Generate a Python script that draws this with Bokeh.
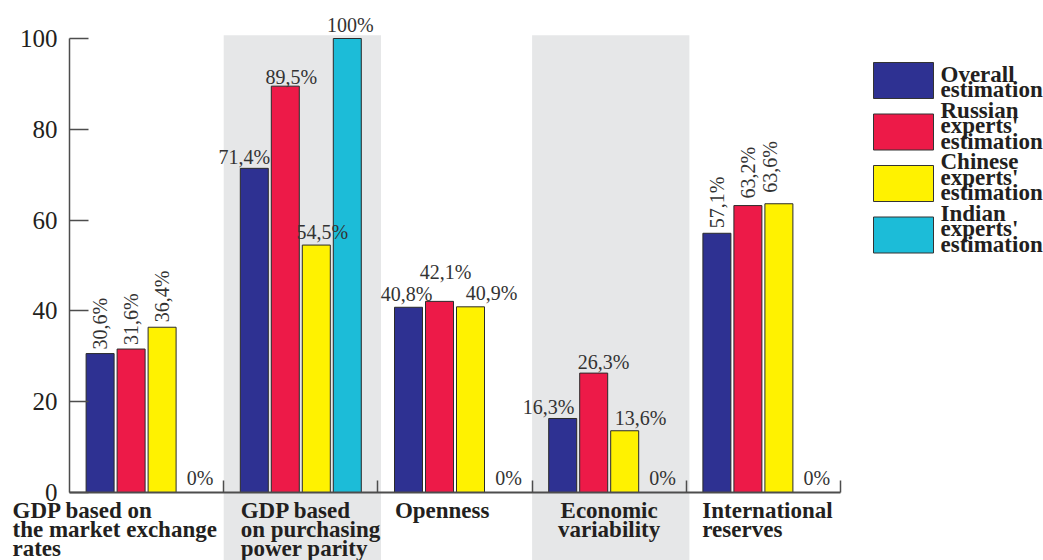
import math
from bokeh.plotting import figure
from bokeh.models import Range1d, LinearAxis, FixedTicker
from bokeh.core.properties import value
from bokeh.embed import file_html
from bokeh.resources import INLINE

# ---------------- data ----------------
categories = [
    "GDP based on\nthe market exchange\nrates",
    "GDP based\non purchasing\npower parity",
    "Openness",
    "Economic\nvariability",
    "International\nreserves",
]
series_names = [
    "Overall\nestimation",
    "Russian\nexperts'\nestimation",
    "Chinese\nexperts'\nestimation",
    "Indian\nexperts'\nestimation",
]
overall = [30.6, 71.4, 40.8, 16.3, 57.1]
russian = [31.6, 89.5, 42.1, 26.3, 63.2]
chinese = [36.4, 54.5, 40.9, 13.6, 63.6]
indian = [0.0, 100.0, 0.0, 0.0, 0.0]
y_ticks = [0, 20, 40, 60, 80, 100]

series_values = [overall, russian, chinese, indian]
colors = ["#2E3192", "#ED1A48", "#FFF200", "#1CBCD8"]
shaded_groups = [1, 3]
rotated_groups = [0, 4]

# ---------------- layout (pixels) ----------------
W, H = 1043, 560
X0_PX = 69.0        # pixel of left edge of first group
GROUP_PX = 154.2    # pixel width of one group
Y0_PX = 492.0       # pixel of value 0
PX_PER_UNIT = 4.54  # pixels per value unit
BASELINE_FIX = 0.3  # em correction for alphabetic baseline placement

x_start = -X0_PX / GROUP_PX
x_end = x_start + W / GROUP_PX
y_end = Y0_PX / PX_PER_UNIT
y_start = -(H - Y0_PX) / PX_PER_UNIT


def px2x(px):
    return x_start + px / GROUP_PX


def py2y(py):
    return y_end - py / PX_PER_UNIT


SLOT = 31.0 / GROUP_PX
BAR_W = 28.0 / GROUP_PX
FIRST = 0.5 - 1.5 * SLOT

SERIF = "Liberation Serif"
TEXT_COLOR = "#231F20"
AXIS_COLOR = "#4d4d4d"
VAL_FS = 20
BOLD_FS = 23

p = figure(width=W, height=H, x_range=Range1d(x_start, x_end), y_range=Range1d(y_start, y_end),
           output_backend="svg", toolbar_location=None, min_border=0,
           x_axis_type=None, y_axis_type=None)
p.outline_line_color = None
p.background_fill_color = "white"
p.border_fill_color = "white"

# shaded group backgrounds
n_groups = len(categories)
p.quad(left=[g for g in shaded_groups], right=[g + 1.02 for g in shaded_groups],
       bottom=[y_start] * len(shaded_groups), top=[100.7] * len(shaded_groups),
       fill_color="#E6E7E8", line_color=None)

# bars
for j, vals in enumerate(series_values):
    xs = [g + FIRST + j * SLOT for g in range(n_groups)]
    p.vbar(x=xs, top=vals, bottom=0, width=BAR_W, fill_color=colors[j],
           line_color="#2b2b2b", line_width=1)

# value labels (nudges in pixels: dx, gap of baseline above bar top)
nudges = {
    (0, 1): (-10, 5), (1, 1): (6, 3), (2, 1): (6, 7), (3, 1): (3, 8),
    (0, 2): (-2, 7), (1, 2): (6, 23), (2, 2): (21, 8),
    (0, 3): (-14, 5), (1, 3): (10, 5), (2, 3): (16, 7),
    (0, 0): (0, 4), (1, 0): (0, 4), (2, 0): (0, 5),
    (0, 4): (0, 5), (1, 4): (0, 7), (2, 4): (-9, 11),
}


def fmt(v):
    return ("%g" % v).replace(".", ",") + "%"


hx, hy, ht = [], [], []
rx, ry, rt = [], [], []
for j, vals in enumerate(series_values):
    for g, v in enumerate(vals):
        cx = g + FIRST + j * SLOT
        dx, gap = nudges.get((j, g), (7, 9))
        if g in rotated_groups and v > 0:
            rx.append(cx + dx / GROUP_PX)
            ry.append(v + gap / PX_PER_UNIT)
            rt.append(fmt(v))
        else:
            hx.append(cx + dx / GROUP_PX)
            hy.append(v + (gap + BASELINE_FIX * VAL_FS) / PX_PER_UNIT)
            ht.append(fmt(v))

p.text(x=hx, y=hy, text=ht, text_font=value(SERIF), text_font_size="%dpx" % VAL_FS,
       text_color="#333333", text_align="center", text_baseline="alphabetic")
p.text(x=rx, y=ry, text=rt, angle=math.pi / 2, text_font=value(SERIF),
       text_font_size="%dpx" % VAL_FS,
       text_color="#333333", text_align="left", text_baseline="middle")

# category labels
cat_anchor = [(-57, "left"), (17, "left"), (17, "left"), (77, "center"), (16, "left")]
line_baselines_px = [517, 536, 555]
for align in ("left", "center"):
    cx, cy, ct = [], [], []
    for g, name in enumerate(categories):
        dxp, al = cat_anchor[g]
        if al != align:
            continue
        for k, line in enumerate(name.split("\n")):
            cx.append(g + dxp / GROUP_PX)
            cy.append(py2y(line_baselines_px[k] - BASELINE_FIX * BOLD_FS))
            ct.append(line)
    p.text(x=cx, y=cy, text=ct, text_font=value(SERIF), text_font_style="bold",
           text_font_size="%dpx" % BOLD_FS, text_color=TEXT_COLOR, text_align=align,
           text_baseline="alphabetic")

# legend
sw_left, sw_right = 873, 933
sw_tops = [62 + i * 51.5 for i in range(len(series_names))]
p.quad(left=[px2x(sw_left)] * 4, right=[px2x(sw_right)] * 4,
       top=[py2y(t) for t in sw_tops], bottom=[py2y(t + 36) for t in sw_tops],
       fill_color=colors, line_color="#333333", line_width=1)
lx, ly, lt = [], [], []
for i, name in enumerate(series_names):
    lines = name.split("\n")
    last = sw_tops[i] + 34
    for k, line in enumerate(lines):
        lx.append(px2x(940))
        ly.append(py2y(last - (len(lines) - 1 - k) * 15.5 - BASELINE_FIX * BOLD_FS))
        lt.append(line)
p.text(x=lx, y=ly, text=lt, text_font=value(SERIF), text_font_style="bold",
       text_font_size="%dpx" % BOLD_FS, text_color=TEXT_COLOR, text_align="left",
       text_baseline="alphabetic")

# axes
yaxis = LinearAxis(fixed_location=0, bounds=(0, 100),
                   ticker=FixedTicker(ticks=y_ticks, minor_ticks=[]))
yaxis.major_tick_in = 19
yaxis.major_tick_out = 0
yaxis.minor_tick_in = 0
yaxis.minor_tick_out = 0
yaxis.axis_line_color = AXIS_COLOR
yaxis.axis_line_width = 1.5
yaxis.major_tick_line_color = AXIS_COLOR
yaxis.major_tick_line_width = 1.5
yaxis.major_label_text_font = SERIF
yaxis.major_label_text_font_size = "25px"
yaxis.major_label_text_color = TEXT_COLOR
yaxis.major_label_standoff = 12
p.add_layout(yaxis, "left")

xaxis = LinearAxis(fixed_location=0, bounds=(0, n_groups),
                   ticker=FixedTicker(ticks=list(range(1, n_groups + 1)), minor_ticks=[]))
xaxis.major_tick_in = 12
xaxis.major_tick_out = 0
xaxis.minor_tick_in = 0
xaxis.minor_tick_out = 0
xaxis.axis_line_color = AXIS_COLOR
xaxis.axis_line_width = 2
xaxis.major_tick_line_color = AXIS_COLOR
xaxis.major_tick_line_width = 1.5
xaxis.major_label_overrides = {i: "" for i in range(1, n_groups + 1)}
xaxis.major_label_text_font_size = "1px"
p.add_layout(xaxis, "below")

open("out.html", "w").write(file_html(p, INLINE))
